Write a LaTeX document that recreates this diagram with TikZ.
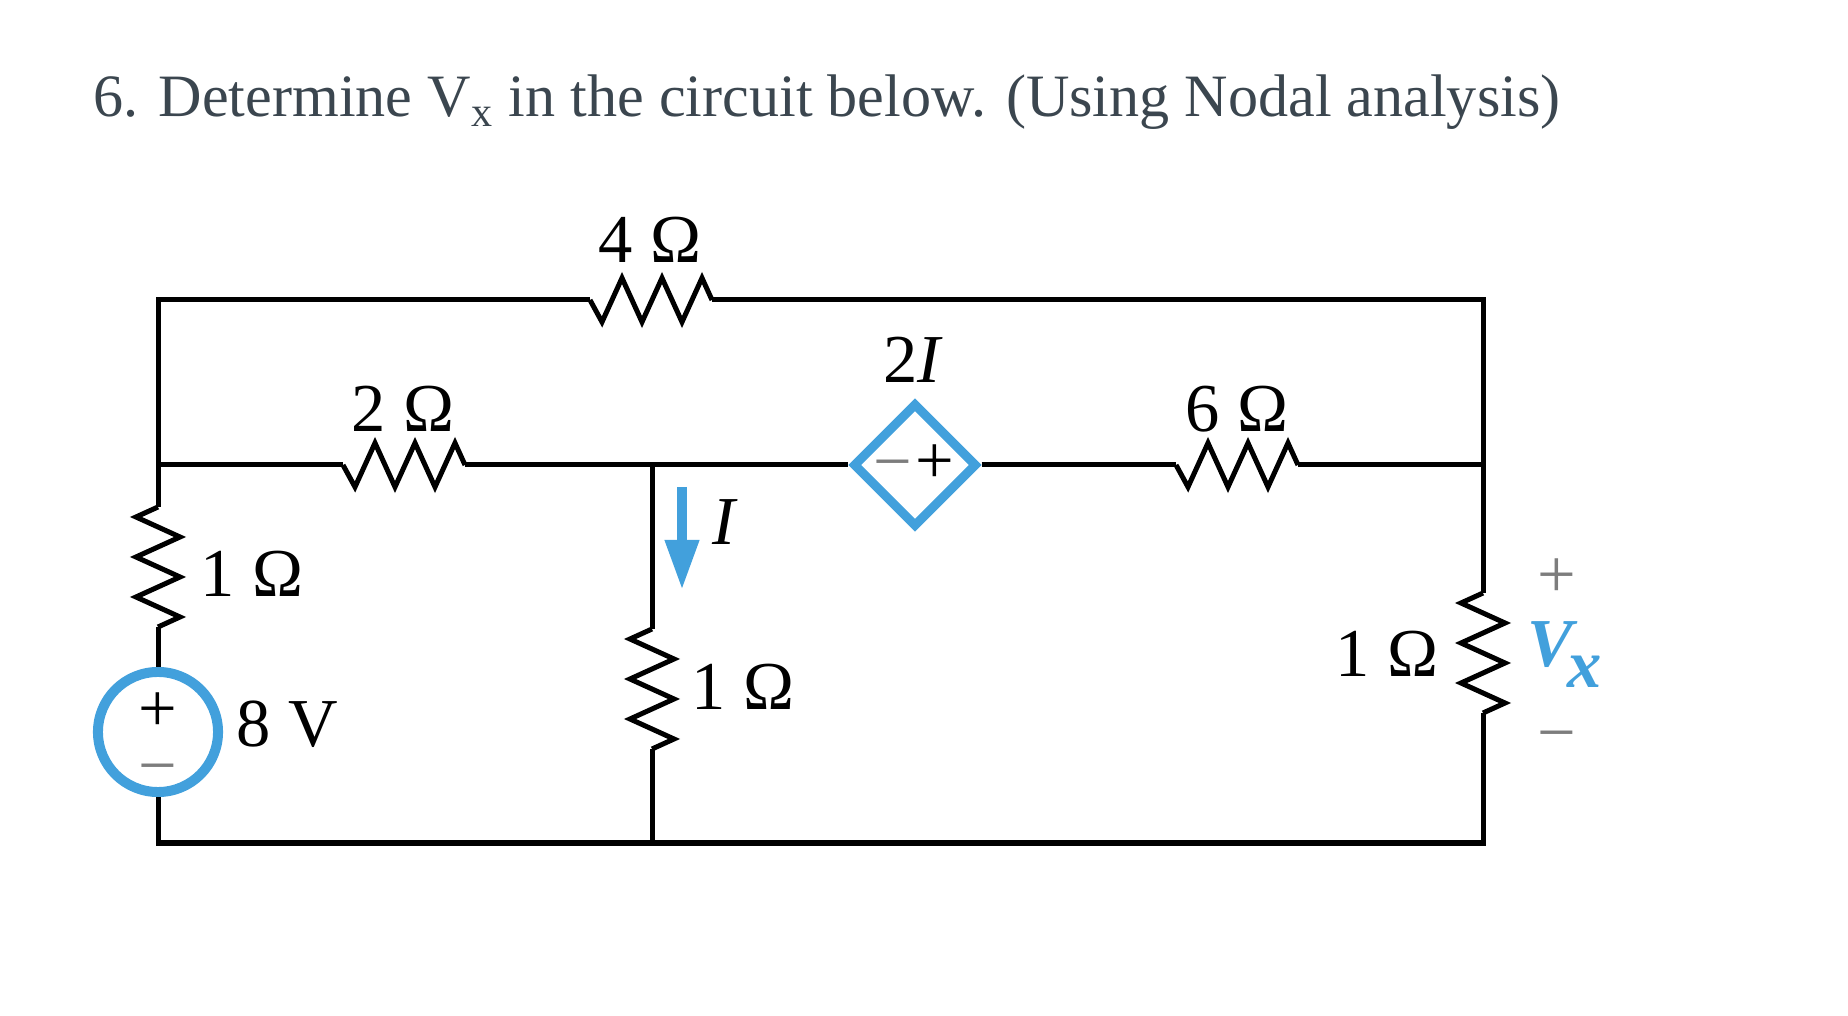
\documentclass[tikz,border=0pt]{standalone}
\usepackage{fontspec}
\setmainfont{Liberation Serif}
\usepackage{tikz}
\usetikzlibrary{positioning}
\usetikzlibrary{shapes.geometric, arrows.meta}
\definecolor{srcblue}{RGB}{66,160,220}
\definecolor{titlegray}{RGB}{59,70,79}
\definecolor{signgray}{RGB}{125,125,125}
\tikzstyle{wire} = [line width=0.05cm, line join=miter]
\tikzstyle{lbl} = [inner sep=0pt, font=\fontsize{19.5}{21}\selectfont]
\tikzstyle{sgn} = [lbl, anchor=base]
\tikzstyle{src} = [circle, draw=srcblue, line width=0.1cm, minimum size=1.2cm, inner sep=0pt]
\tikzstyle{dep} = [diamond, draw=srcblue, line width=0.09cm, minimum width=1.24cm, minimum height=1.24cm, inner sep=0pt]
\tikzset{
  resh/.pic={
    \draw[wire] (-61,0) -- (-49,22) -- (-29,-22) -- (-9,22) -- (11,-22) -- (31,22) -- (51,-22) -- (61,0);
    \coordinate (-a) at (-61,0); \coordinate (-b) at (61,0);
  },
  resv/.pic={
    \draw[wire] (0,-60) -- (-22,-50) -- (22,-30) -- (-22,-10) -- (22,10) -- (-22,30) -- (22,50) -- (0,60);
    \coordinate (-a) at (0,-60); \coordinate (-b) at (0,60);
  }
}

\begin{document}
\begin{tikzpicture}[x=0.01cm, y=-0.01cm]
\useasboundingbox (0,0) rectangle (1848,1016);
\node[inner sep=0pt, anchor=base west, text=titlegray, font=\fontsize{17.1}{18}\selectfont] (title) at (93,117)
  {6. Determine V\textsubscript{x} in the circuit below. (Using Nodal analysis)};
% junctions
\coordinate (tl) at (158,300);
\coordinate (tr) at (1483,300);
\coordinate (ml) at (158,465);
\coordinate (mm) at (652,465);
\coordinate (mr) at (1483,465);
\coordinate (bl) at (158,843);
\coordinate (bm) at (652,843);
\coordinate (br) at (1483,843);
% elements
\pic (R4) at (651,300) {resh};
\pic (R2) at (404,465) {resh};
\pic (R6) at (1237,465) {resh};
\pic (R1L) at (158,567) {resv};
\pic (R1M) at (652,689) {resv};
\pic (R1R) at (1483,653) {resv};
\node[src] (vs) at (158,732) {};
\node[dep] (dv) at (915,465) {};
% wires
\draw[wire] (vs.south) -- (bl) -- (br) -- (R1R-b);
\draw[wire] (R1R-a) -- (mr) -- (tr) -- (R4-b);
\draw[wire] (R4-a) -- (tl) -- (ml) -- (R1L-a);
\draw[wire] (R1L-b) -- (vs.north);
\draw[wire] (ml) -- (R2-a);
\draw[wire] (R2-b) -- (mm) -- (dv.west);
\draw[wire] (dv.east) -- (R6-a);
\draw[wire] (R6-b) -- (mr);
\draw[wire] (mm) -- (R1M-a);
\draw[wire] (R1M-b) -- (bm);
% current arrow
\coordinate (Itop) at (682,487);
\coordinate (Ibot) at (682,590);
\draw[srcblue, line width=0.1cm, -{Triangle[length=0.5cm, width=0.32cm]}] (Itop) -- (Ibot);
% labels
\node[lbl, anchor=base] (l4) at (650,263) {4 Ω};
\node[lbl, anchor=base] (l2) at (403,432) {2 Ω};
\node[lbl, anchor=base] (l6) at (1237,432) {6 Ω};
\node[lbl, anchor=base] (l2I) at (913,383) {2\textit{I}};
\node[lbl, anchor=base] (lI) at (725,545) {\textit{I}};
\node[lbl, anchor=base west] (l1L) at (200,597) {1 Ω};
\node[lbl, anchor=base west] (l1M) at (691,710) {1 Ω};
\node[lbl, anchor=base east] (l1R) at (1439,677) {1 Ω};
\node[lbl, anchor=base west] (l8) at (236,747) {8 V};
% signs
\node[sgn] (vsp) at (158,732) {+};
\node[sgn, text=signgray] (vsm) at (158,789) {−};
\node[sgn, text=signgray] (dvm) at (893,485) {−};
\node[sgn] (dvp) at (935,484) {+};
\node[sgn, text=signgray] (vxp) at (1557,598) {+};
\node[sgn, text=signgray] (vxm) at (1557,756) {−};
\node[lbl, anchor=base west, text=srcblue] (vx) at (1527,667)
  {\textbf{\textit{V}}\kern-0.16em\raisebox{-0.3em}{\textbf{\textit{x}}}};
\end{tikzpicture}
\end{document}
